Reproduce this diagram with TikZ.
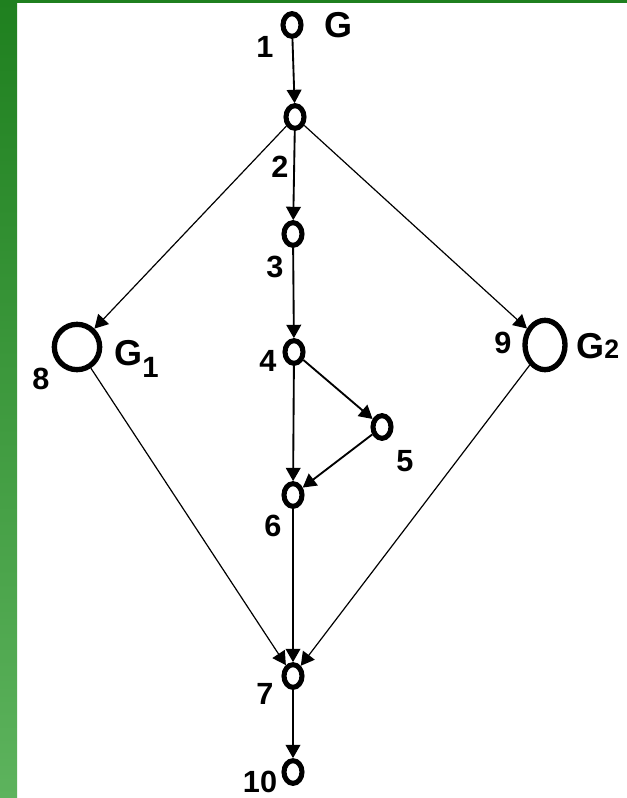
\documentclass[tikz,border=0pt]{standalone}
\usepackage{fontspec}
\setmainfont{Liberation Sans}
\usepackage{xcolor}
\usepackage{tikz}
\usetikzlibrary{positioning, arrows.meta, shapes.geometric}

\definecolor{bardark}{RGB}{31,128,31}
\definecolor{barlight}{RGB}{93,179,93}

\begin{document}
\begin{tikzpicture}[x=0.75pt, y=-0.75pt,
    vtx/.style={ellipse, draw, line width=3.8pt, minimum width=13.5pt, minimum height=17pt, inner sep=0pt},
    bigvtx/.style={ellipse, draw, line width=4pt, inner sep=0pt},
    lbl/.style={font=\bfseries\fontsize{23}{23}\selectfont, inner sep=0pt},
    glbl/.style={font=\bfseries\fontsize{27}{27}\selectfont, inner sep=0pt, anchor=base west},
    edge/.style={-{Triangle[length=10pt, width=11pt]}, line width=1.4pt},
    thinedge/.style={edge, line width=0.9pt}]

    \useasboundingbox (0,0) rectangle (627,798);
    \fill[white] (0,0) rectangle (627,798);

    % green frame
    \shade[top color=bardark, bottom color=barlight] (0,0) rectangle (17,798);
    \fill[bardark] (0,0) rectangle (627,3);

    % vertices
    \node[vtx] (n1) at (292,25) {};
    \node[vtx] (n2) at (295,117) {};
    \node[vtx] (n3) at (293,234) {};
    \node[vtx] (n4) at (294,352) {};
    \node[vtx] (n5) at (382,427) {};
    \node[vtx] (n6) at (293,495) {};
    \node[vtx] (n7) at (293,676) {};
    \node[vtx] (n10) at (293,772) {};
    \node[bigvtx, minimum width=34pt, minimum height=34pt] (n8) at (77,347) {};
    \node[bigvtx, minimum width=30pt, minimum height=37pt] (n9) at (545,345) {};

    % numbers
    \node[lbl] (l1) at (265,47) {1};
    \node[lbl] (l2) at (280,167) {2};
    \node[lbl] (l3) at (275,267) {3};
    \node[lbl] (l4) at (268,361) {4};
    \node[lbl] (l5) at (405,461) {5};
    \node[lbl] (l6) at (273,526) {6};
    \node[lbl] (l7) at (265,694) {7};
    \node[lbl] (l8) at (41,379) {8};
    \node[lbl] (l9) at (503,343) {9};
    \node[lbl] (l10) at (260,782) {10};

    % graph names
    \node[glbl] (gtop) at (324,38) {G};
    \node[glbl] (gone) at (114,365) {G\raisebox{-9pt}{\fontsize{22}{22}\selectfont 1}};
    \node[glbl] (gtwo) at (576,358) {G{\fontsize{20}{20}\selectfont 2}};

    % edges
    \draw[edge] (n1) -- (n2);
    \draw[edge] (n2) -- (n3);
    \draw[thinedge] (n2) -- (n8);
    \draw[thinedge] (n2) -- (n9);
    \draw[edge] (n3) -- (n4);
    \draw[edge] (n4) -- (n5);
    \draw[edge] (n4) -- (n6);
    \draw[edge] (n5) -- (n6);
    \draw[edge] (n6) -- (n7);
    \draw[thinedge] (n8) -- (n7);
    \draw[thinedge] (n9) -- (n7);
    \draw[edge] (n7) -- (n10);

\end{tikzpicture}
\end{document}
